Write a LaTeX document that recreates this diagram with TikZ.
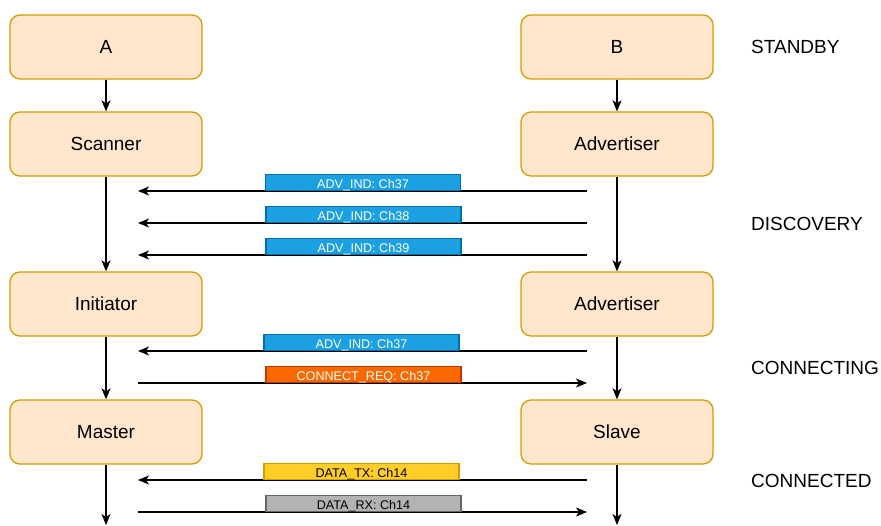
\documentclass[tikz,border=0pt]{standalone}
\usepackage{fontspec}
\setmainfont{Liberation Sans}
\usetikzlibrary{arrows.meta}
\definecolor{boxfill}{HTML}{FFE6CC}
\definecolor{boxline}{HTML}{D79B00}
\definecolor{bluefill}{HTML}{1BA1E2}
\definecolor{blueline}{HTML}{006EAF}
\definecolor{orfill}{HTML}{FA6800}
\definecolor{orline}{HTML}{C73500}
\definecolor{yelfill}{HTML}{FFCD28}
\definecolor{yelline}{HTML}{D79B00}
\definecolor{grayfill}{HTML}{B3B3B3}
\definecolor{grayline}{HTML}{666666}
\begin{document}
\begin{tikzpicture}[x=1pt,y=-1pt,
  state/.style={draw=boxline,fill=boxfill,line width=1.3pt,rounded corners=10pt,
    minimum width=192pt,minimum height=64pt,inner sep=0pt,font=\fontsize{19}{21}\selectfont},
  arr/.style={line width=1.3pt,-{Stealth[length=11pt,width=9pt,inset=3pt]}},
  msg/.style={line width=1.3pt,minimum width=195pt,minimum height=16pt,inner sep=0pt,anchor=south,
    text height=12.5pt,text depth=0pt,font=\fontsize{12.6}{13}\selectfont},
  blue/.style={msg,draw=blueline,fill=bluefill,text=white},
  oran/.style={msg,draw=orline,fill=orfill,text=white},
  yel/.style={msg,draw=yelline,fill=yelfill,text=black},
  gry/.style={msg,draw=grayline,fill=grayfill,text=black},
  phase/.style={anchor=west,inner sep=0pt,font=\fontsize{19}{21}\selectfont}]
\useasboundingbox (0,0) rectangle (881,525);
% left column
\node[state] (A) at (106,47) {A};
\node[state] (S) at (106,144) {Scanner};
\node[state] (I) at (106,304) {Initiator};
\node[state] (M) at (106,432) {Master};
% right column
\node[state] (B) at (617,47) {B};
\node[state] (Ad1) at (617,144) {Advertiser};
\node[state] (Ad2) at (617,304) {Advertiser};
\node[state] (Sl) at (617,432) {Slave};
\coordinate (Mend) at (106,525);
\coordinate (Slend) at (617,525);
\draw[arr] (A) -- (S);
\draw[arr] (S) -- (I);
\draw[arr] (I) -- (M);
\draw[arr] (M) -- (Mend);
\draw[arr] (B) -- (Ad1);
\draw[arr] (Ad1) -- (Ad2);
\draw[arr] (Ad2) -- (Sl);
\draw[arr] (Sl) -- (Slend);
% message arrows
\foreach \n/\y in {1/191,2/223,3/255,4/351,5/383,6/480,7/512}{
  \coordinate (r\n) at (587,\y);
  \coordinate (l\n) at (138,\y);
}
\draw[arr] (r1) -- (l1);
\draw[arr] (r2) -- (l2);
\draw[arr] (r3) -- (l3);
\draw[arr] (r4) -- (l4);
\draw[arr] (l5) -- (r5);
\draw[arr] (r6) -- (l6);
\draw[arr] (l7) -- (r7);
\node[blue] (m1) at (363,191) {ADV\_IND: Ch37};
\node[blue] (m2) at (363.5,223) {ADV\_IND: Ch38};
\node[blue] (m3) at (363.5,255) {ADV\_IND: Ch39};
\node[blue] (m4) at (361.5,351) {ADV\_IND: Ch37};
\node[oran] (m5) at (363.5,383) {CONNECT\_REQ: Ch37};
\node[yel] (m6) at (361.5,480) {DATA\_TX: Ch14};
\node[gry] (m7) at (363.5,512) {DATA\_RX: Ch14};
% phase labels
\node[phase] (p1) at (751,47) {STANDBY};
\node[phase] (p2) at (751,224) {DISCOVERY};
\node[phase] (p3) at (751,368) {CONNECTING};
\node[phase] (p4) at (751,481) {CONNECTED};
\end{tikzpicture}
\end{document}
